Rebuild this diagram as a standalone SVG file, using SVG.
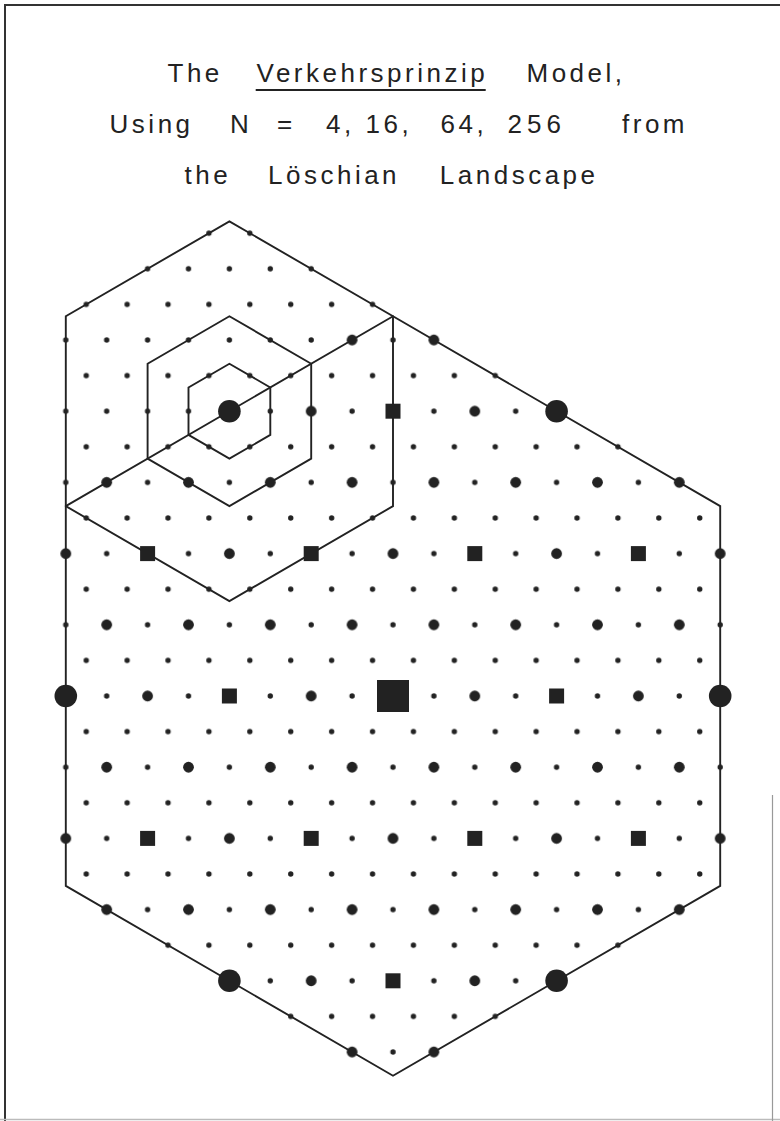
<svg xmlns="http://www.w3.org/2000/svg" width="780" height="1121" viewBox="0 0 780 1121">
  <style>
    .ttl { font-family: "Liberation Sans", Arial, Helvetica, sans-serif; font-size: 26px; letter-spacing: 3.5px; fill: #222; }
    .edge { fill: none; stroke: #222; stroke-width: 1.9; stroke-linejoin: miter; }
    .frame { fill: none; stroke: #333; stroke-width: 2; }
    .dot { fill: #222; }
  </style>
  <defs>
    <pattern id="pS" patternUnits="userSpaceOnUse" x="382.775" y="678.2" width="40.9" height="71.2">
      <circle class="dot" cx="10.225" cy="17.8" r="2.7"/>
      <circle class="dot" cx="30.675" cy="53.4" r="2.7"/>
    </pattern>
    <pattern id="pM" patternUnits="userSpaceOnUse" x="372.55" y="660.4" width="81.8" height="142.4">
      <circle class="dot" cx="20.45" cy="35.6" r="5.4"/>
      <circle class="dot" cx="61.35" cy="106.8" r="5.4"/>
    </pattern>
    <rect id="sq" x="-7.5" y="-7.5" width="15" height="15" class="dot"/>
    <circle id="lg" r="11.3" class="dot"/>
  </defs>

  <rect width="780" height="1121" fill="#fff"/>

  <g id="frame">
    <line class="frame" x1="5" y1="5" x2="780" y2="5"/>
    <line class="frame" x1="5" y1="4" x2="5" y2="1121"/>
    <line x1="0" y1="1119.5" x2="780" y2="1119.5" stroke="#bbb" stroke-width="1.5"/>
    <line x1="772.5" y1="795" x2="772.5" y2="1121" stroke="#999" stroke-width="1.2"/>
  </g>

  <g id="title">
    <text class="ttl" y="82"><tspan x="167.5">The</tspan> <tspan x="256.5">Verkehrsprinzip</tspan> <tspan x="526.5">Model,</tspan></text>
    <line x1="255.7" y1="90" x2="485.7" y2="90" stroke="#222" stroke-width="2"/>
    <text class="ttl" y="133"><tspan x="109.6">Using</tspan> <tspan x="230">N</tspan> <tspan x="277">=</tspan> <tspan x="326">4,</tspan> <tspan x="365.5">16,</tspan> <tspan x="440.6">64,</tspan> <tspan x="507.5" letter-spacing="5">256</tspan> <tspan x="622">from</tspan></text>
    <text class="ttl" y="183.5"><tspan x="184.5">the</tspan> <tspan x="268">Löschian</tspan> <tspan x="439.8">Landscape</tspan></text>
  </g>

  <g id="connectors">
    <polygon id="hex-N256" class="edge" points="393,316.27 720.2,506.13 720.2,885.87 393,1075.73 65.8,885.87 65.8,506.13"/>
    <polygon id="hex-N64" class="edge" points="229.4,221.33 393,316.27 393,506.13 229.4,601.07 65.8,506.13 65.8,316.27"/>
    <polygon id="hex-N16" class="edge" points="229.4,316.27 311.2,363.73 311.2,458.67 229.4,506.13 147.6,458.67 147.6,363.73"/>
    <polygon id="hex-N4" class="edge" points="229.4,363.73 270.3,387.47 270.3,434.93 229.4,458.67 188.5,434.93 188.5,387.47"/>
  </g>

  <g id="places-small">
    <path fill="url(#pS)" fill-rule="nonzero" d="M393,307.03 L728.2,501.5 L728.2,890.5 L393,1084.97 L57.8,890.5 L57.8,501.5 Z M229.4,212.1 L401,311.6 L401,510.8 L229.4,610.3 L57.8,510.8 L57.8,311.6 Z"/>
  </g>
  <g id="places-N4">
    <path fill="url(#pM)" d="M393,307.03 L728.2,501.5 L728.2,890.5 L393,1084.97 L57.8,890.5 L57.8,501.5 Z"/>
  </g>
  <g id="places-N16">
    <use href="#sq" x="229.4" y="696"/>
    <use href="#sq" x="556.6" y="696"/>
    <use href="#sq" x="147.6" y="553.6"/>
    <use href="#sq" x="311.2" y="553.6"/>
    <use href="#sq" x="474.8" y="553.6"/>
    <use href="#sq" x="638.4" y="553.6"/>
    <use href="#sq" x="393" y="411.2"/>
    <use href="#sq" x="147.6" y="838.4"/>
    <use href="#sq" x="311.2" y="838.4"/>
    <use href="#sq" x="474.8" y="838.4"/>
    <use href="#sq" x="638.4" y="838.4"/>
    <use href="#sq" x="393" y="980.8"/>
  </g>
  <g id="places-N64">
    <use href="#lg" x="65.8" y="696"/>
    <use href="#lg" x="720.2" y="696"/>
    <use href="#lg" x="229.4" y="411.2"/>
    <use href="#lg" x="556.6" y="411.2"/>
    <use href="#lg" x="229.4" y="980.8"/>
    <use href="#lg" x="556.6" y="980.8"/>
  </g>
  <g id="place-N256">
    <rect x="377" y="680" width="32" height="32" class="dot"/>
  </g>
</svg>
